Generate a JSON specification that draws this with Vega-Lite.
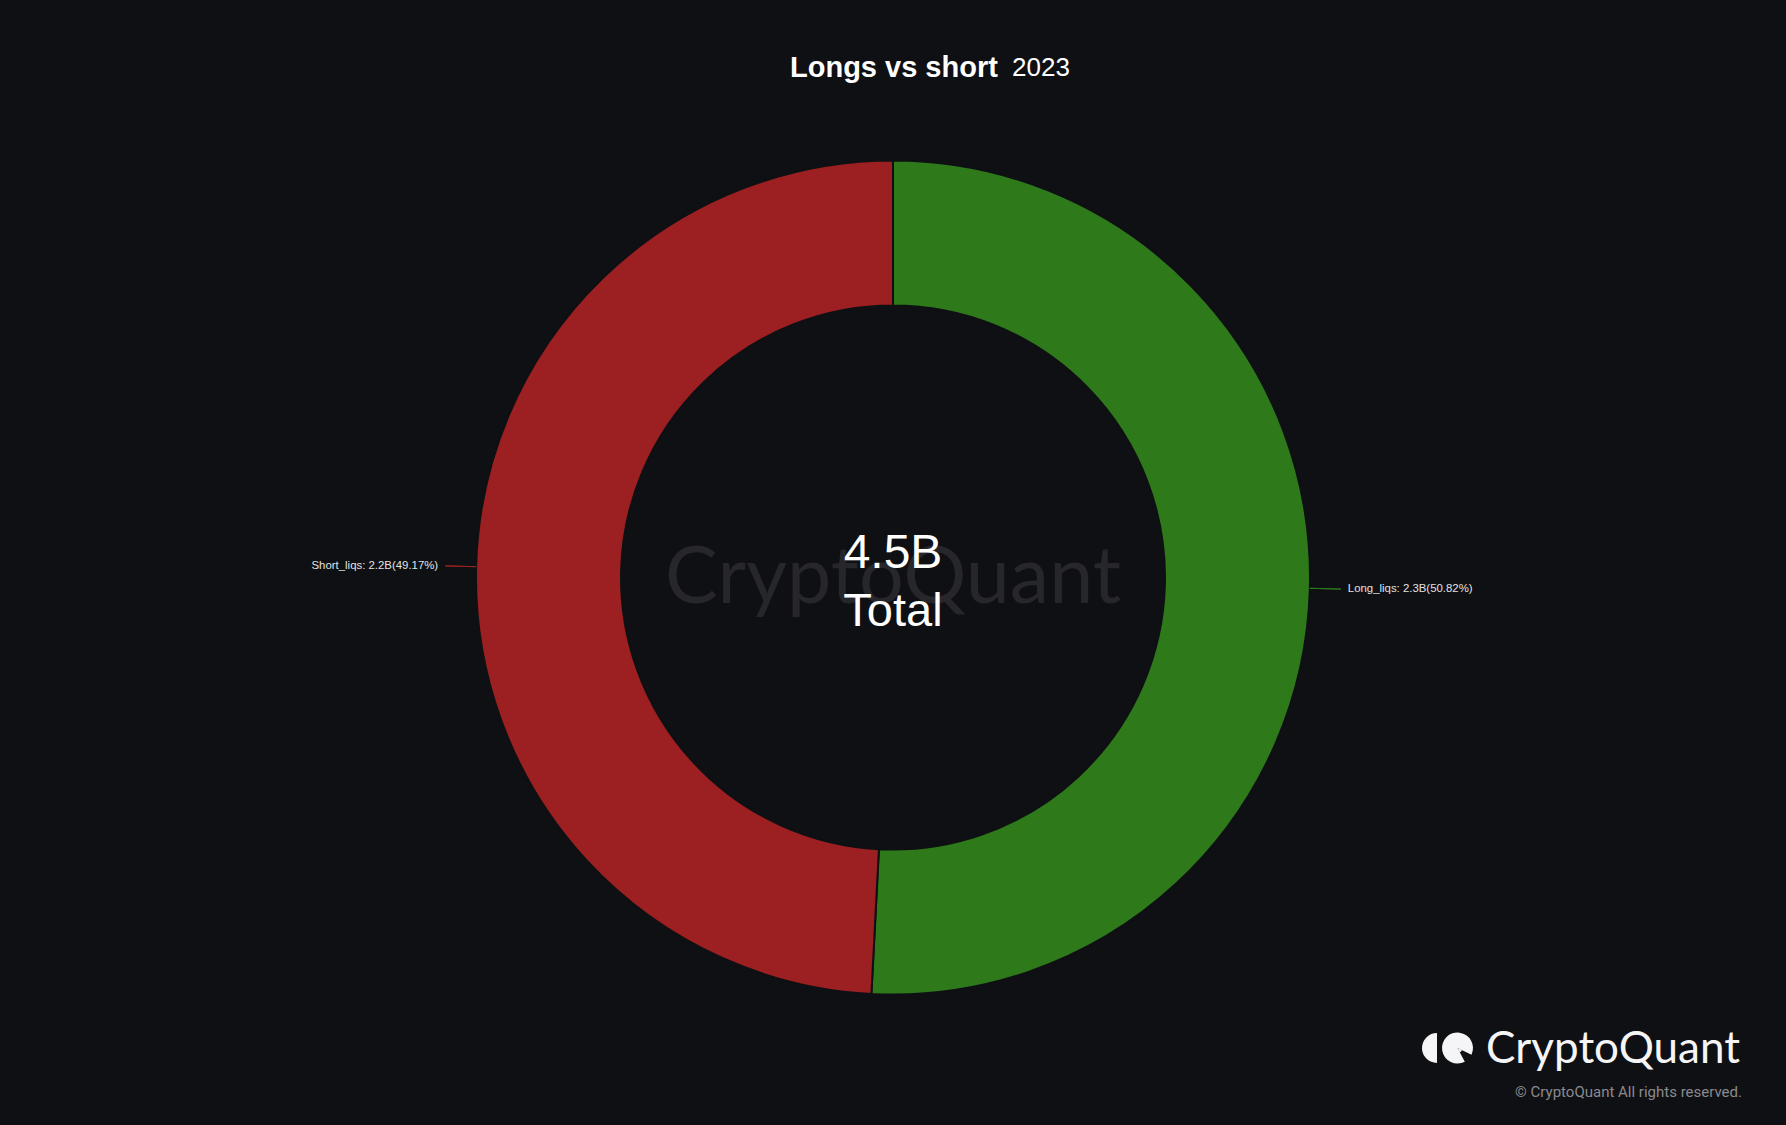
{
  "$schema": "https://vega.github.io/schema/vega-lite/v6.json",
  "width": 1786,
  "height": 935,
  "autosize": "none",
  "padding": {"top": 110, "bottom": 80, "left": 0, "right": 0},
  "background": "#0f1013",
  "config": {"view": {"stroke": null}},
  "title": {
    "text": "Longs vs short",
    "anchor": "middle",
    "align": "left",
    "dx": -103,
    "offset": -28,
    "font": "Liberation Sans",
    "fontSize": 29,
    "fontWeight": "bold",
    "color": "#ffffff"
  },
  "datasets": {
    "liqs": [
      {"type": "Long_liqs", "value": 2.2869, "label": "Long_liqs: 2.3B(50.82%)"},
      {"type": "Short_liqs", "value": 2.2127, "label": "Short_liqs: 2.2B(49.17%)"}
    ],
    "center": [{"line1": "4.5B", "line2": "Total", "year": "2023"}],
    "brand": [{"name": "CryptoQuant", "copy": "© CryptoQuant All rights reserved."}]
  },
  "layer": [
    {
      "data": {"name": "brand"},
      "mark": {"type": "text", "font": "Lato", "fontSize": 79, "color": "#26262b", "align": "center", "baseline": "alphabetic"},
      "encoding": {
        "x": {"value": {"expr": "width/2"}},
        "y": {"value": {"expr": "height/2 + 25"}},
        "text": {"field": "name"}
      }
    },
    {
      "data": {"name": "liqs"},
      "mark": {"type": "arc", "outerRadius": 417, "innerRadius": 272, "stroke": "#0f1013", "strokeWidth": 2},
      "encoding": {
        "theta": {"field": "value", "type": "quantitative", "stack": true},
        "color": {"field": "type", "type": "nominal", "scale": {"domain": ["Long_liqs", "Short_liqs"], "range": ["#2e7a1b", "#9c1f21"]}, "legend": null},
        "order": {"field": "type", "sort": "ascending"}
      }
    },
    {
      "data": {"name": "liqs"},
      "transform": [
        {"stack": "value", "groupby": [], "sort": [{"field": "type", "order": "ascending"}], "as": ["v0", "v1"]},
        {"fold": ["v0", "v1"], "as": ["k", "pos"]},
        {"aggregate": [{"op": "mean", "field": "pos", "as": "mid"}], "groupby": ["type", "label"]}
      ],
      "layer": [
        {
          "mark": {"type": "arc", "innerRadius": 417, "outerRadius": 448, "filled": false, "strokeWidth": 1},
          "encoding": {
            "theta": {"field": "mid", "type": "quantitative", "stack": null},
            "theta2": {"field": "mid"},
            "color": {"field": "type", "type": "nominal", "legend": null}
          }
        },
        {
          "mark": {"type": "text", "radius": 455, "font": "Liberation Sans", "fontSize": 11.4, "color": "#e2e2e2", "baseline": "middle", "align": {"expr": "datum.type === 'Long_liqs' ? 'left' : 'right'"}},
          "encoding": {
            "theta": {"field": "mid", "type": "quantitative", "stack": null},
            "text": {"field": "label"}
          }
        }
      ]
    },
    {
      "data": {"name": "center"},
      "layer": [
        {
          "mark": {"type": "text", "font": "Liberation Sans", "fontSize": 48, "color": "#ffffff", "align": "center", "baseline": "alphabetic"},
          "encoding": {
            "x": {"value": {"expr": "width/2"}},
            "y": {"value": {"expr": "height/2 - 10"}},
            "text": {"field": "line1"}
          }
        },
        {
          "mark": {"type": "text", "font": "Liberation Sans", "fontSize": 47, "color": "#ffffff", "align": "center", "baseline": "alphabetic"},
          "encoding": {
            "x": {"value": {"expr": "width/2"}},
            "y": {"value": {"expr": "height/2 + 48"}},
            "text": {"field": "line2"}
          }
        },
        {
          "mark": {"type": "text", "font": "Liberation Sans", "fontSize": 26, "color": "#ffffff", "align": "left", "baseline": "alphabetic"},
          "encoding": {
            "x": {"value": {"expr": "width/2 + 119"}},
            "y": {"value": -34},
            "text": {"field": "year"}
          }
        }
      ]
    },
    {
      "data": {"name": "brand"},
      "layer": [
        {
          "mark": {"type": "arc", "theta": 3.1416, "theta2": 6.2832, "outerRadius": 15, "innerRadius": 0, "color": "#f5f5f8"},
          "encoding": {
            "x": {"value": {"expr": "width - 349"}},
            "y": {"value": {"expr": "height + 3"}}
          }
        },
        {
          "mark": {"type": "arc", "theta": 2.65, "theta2": 8.3, "outerRadius": 15.5, "innerRadius": 0, "color": "#f5f5f8"},
          "encoding": {
            "x": {"value": {"expr": "width - 328.5"}},
            "y": {"value": {"expr": "height + 3"}}
          }
        },
        {
          "mark": {"type": "arc", "theta": 2.0, "theta2": 2.7, "outerRadius": 5, "innerRadius": 0, "color": "#f5f5f8"},
          "encoding": {
            "x": {"value": {"expr": "width - 328.5"}},
            "y": {"value": {"expr": "height + 3"}}
          }
        },
        {
          "mark": {"type": "text", "font": "Lato", "fontSize": 44, "color": "#f5f5f7", "align": "right", "baseline": "alphabetic"},
          "encoding": {
            "x": {"value": {"expr": "width - 46"}},
            "y": {"value": {"expr": "height + 18"}},
            "text": {"field": "name"}
          }
        },
        {
          "mark": {"type": "text", "font": "Roboto", "fontSize": 15, "color": "#8a8a8e", "align": "right", "baseline": "alphabetic"},
          "encoding": {
            "x": {"value": {"expr": "width - 44"}},
            "y": {"value": {"expr": "height + 52"}},
            "text": {"field": "copy"}
          }
        }
      ]
    }
  ]
}
